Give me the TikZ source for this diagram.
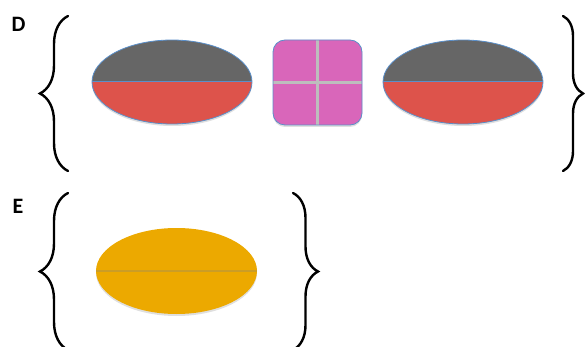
\documentclass[tikz,border=0pt]{standalone}
\usepackage{fontspec}
\setmainfont{Carlito}
\usetikzlibrary{shapes.geometric,decorations.pathreplacing,shadows}
\definecolor{lidgray}{HTML}{666666}
\definecolor{lidred}{HTML}{DD534B}
\definecolor{rimblue}{HTML}{5B8FC9}
\definecolor{tilepink}{HTML}{D966BA}
\definecolor{seamgray}{HTML}{BDBDBD}
\definecolor{grainorange}{HTML}{ECA900}

\begin{document}
\begin{tikzpicture}[x=1pt,y=-1pt,
    lbl/.style={font=\fontsize{22}{26}\selectfont\bfseries},
    curly/.style={decorate,decoration={brace,amplitude=#1},line width=2.4pt,line cap=round},
    shade/.style={drop shadow={opacity=0.25,shadow xshift=0pt,shadow yshift=-2pt}},
    halfpod/.style={ellipse,minimum width=160pt,minimum height=84pt,inner sep=0pt,
      draw=rimblue,line width=0.8pt,shade,
      path picture={
        \fill[lidgray] (path picture bounding box.north west) rectangle (path picture bounding box.east);
        \fill[lidred] (path picture bounding box.west) rectangle (path picture bounding box.south east);
        \draw[rimblue,line width=1pt] (path picture bounding box.west)--(path picture bounding box.east);}},
    tile/.style={rectangle,rounded corners=12pt,minimum width=89pt,minimum height=85pt,inner sep=0pt,
      fill=tilepink,draw=rimblue,line width=0.8pt,shade,
      path picture={
        \draw[seamgray,line width=2.5pt] (path picture bounding box.north)--(path picture bounding box.south);
        \draw[seamgray,line width=2.5pt] (path picture bounding box.west)--(path picture bounding box.east);}},
    grain/.style={ellipse,minimum width=161pt,minimum height=86pt,inner sep=0pt,
      fill=grainorange,shade,
      path picture={
        \draw[grainorange!70!gray,line width=1.2pt] (path picture bounding box.west)--(path picture bounding box.east);}}]
  \useasboundingbox (0,0) rectangle (585,347);
  % row D
  \node[lbl] (labD) at (18.5,24.5) {D};
  \coordinate (dl1) at (68,171); \coordinate (dl2) at (68,16);
  \draw[curly=28pt] (dl1)--(dl2);
  \node[halfpod] (podL) at (172,82) {};
  \node[tile] (sq) at (317.5,82.5) {};
  \node[halfpod] (podR) at (463,82) {};
  \coordinate (dr1) at (563,16); \coordinate (dr2) at (563,171);
  \draw[curly=20pt] (dr1)--(dr2);
  % row E
  \node[lbl] (labE) at (18,206) {E};
  \coordinate (el1) at (68,350); \coordinate (el2) at (68,193);
  \draw[curly=28pt] (el1)--(el2);
  \node[grain] (seed) at (176.5,271) {};
  \coordinate (er1) at (293,193); \coordinate (er2) at (293,350);
  \draw[curly=25pt] (er1)--(er2);
\end{tikzpicture}
\end{document}
